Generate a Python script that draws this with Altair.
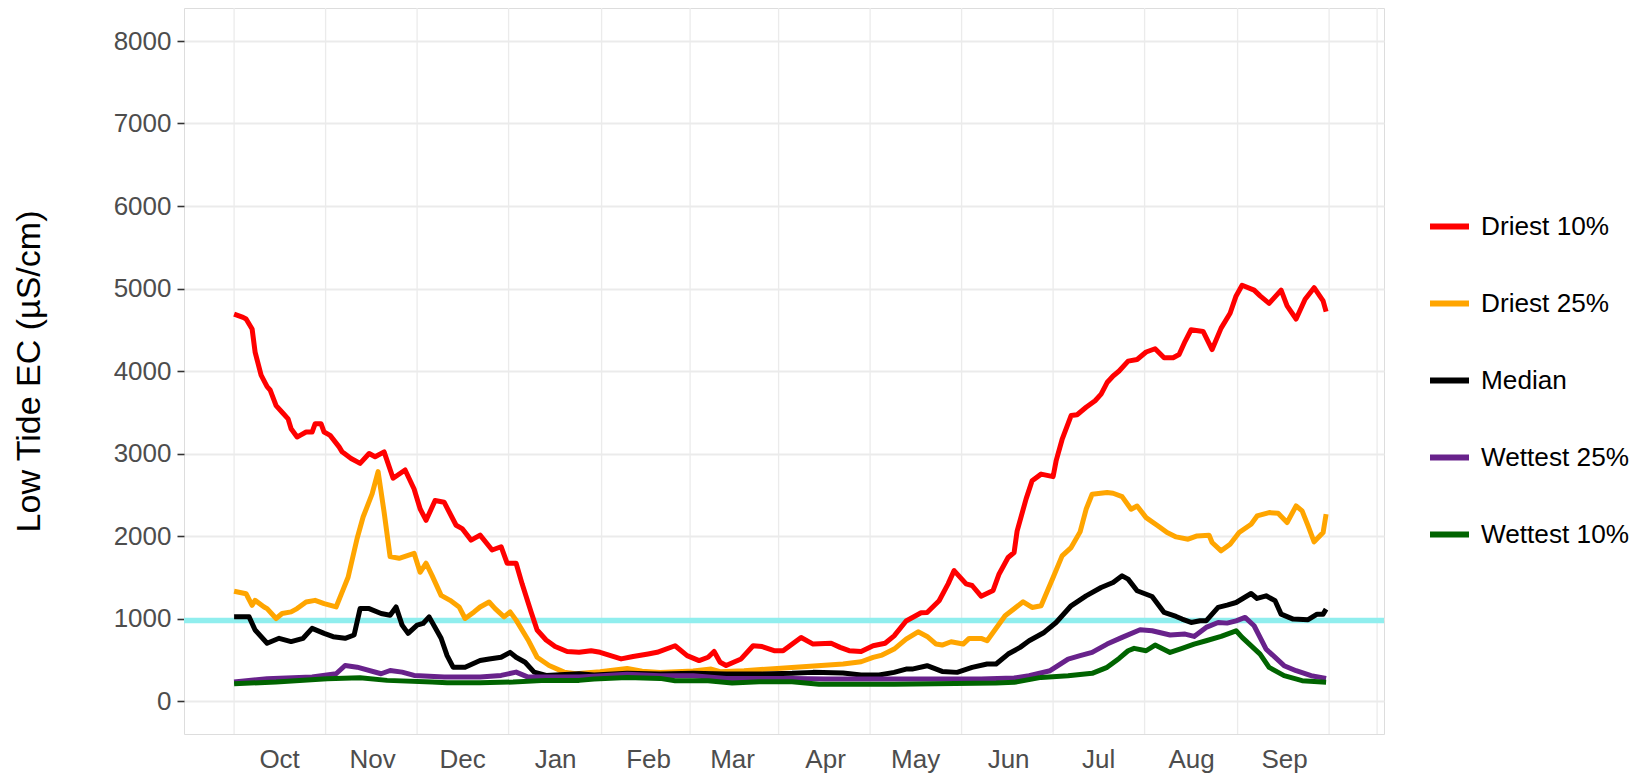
import altair as alt
import pandas as pd

# ---------------- data (day of water year: Oct 1 = 1) ----------------
series_names = ["Driest 10%", "Driest 25%", "Median", "Wettest 25%", "Wettest 10%"]
series_colors = ["#FF0000", "#FFA500", "#000000", "#68228B", "#006400"]

driest10_day = [1, 4, 5, 7, 8, 10, 12, 13, 15, 17, 19, 20, 22, 23, 25, 27, 28, 30, 31, 33,
                36, 37, 40, 43, 46, 48, 51, 54, 58, 61, 63, 65, 68, 71, 75, 77, 80, 83, 87, 90,
                92, 95, 97, 100, 102, 105, 108, 112, 116, 120, 123, 130, 134, 139, 142, 148, 152, 156, 159, 161,
                163, 165, 170, 174, 177, 181, 184, 190, 194, 200, 203, 206, 210, 214, 218, 221, 225, 230, 232, 236,
                239, 241, 245, 247, 250, 254, 256, 259, 261, 262, 265, 267, 270, 274, 275, 277, 280, 282, 285, 288,
                290, 292, 294, 296, 299, 302, 305, 308, 311, 314, 316, 318, 320, 324, 327, 330, 333, 335, 337, 341,
                343, 346, 350, 352, 355, 358, 361, 364, 365]
driest10_ec = [4690, 4650, 4630, 4510, 4230, 3950, 3810, 3770, 3580, 3500, 3420, 3300, 3200, 3220, 3260, 3260, 3360, 3360, 3260, 3220,
               3080, 3020, 2940, 2880, 3000, 2960, 3020, 2700, 2800, 2570, 2330, 2190, 2430, 2410, 2130, 2090, 1950, 2010, 1830, 1870,
               1670, 1670, 1420, 1080, 860, 740, 660, 600, 590, 610, 590, 510, 540, 570, 590, 670, 550, 490, 530, 600,
               470, 430, 510, 670, 660, 610, 610, 770, 690, 700, 650, 610, 600, 670, 700, 790, 970, 1070, 1073, 1215,
               1420, 1580, 1420, 1400, 1270, 1340, 1540, 1740, 1800, 2060, 2450, 2670, 2750, 2720, 2910, 3170, 3460, 3470, 3560, 3640,
               3720, 3860, 3940, 4000, 4120, 4140, 4230, 4270, 4160, 4160, 4200, 4360, 4500, 4480, 4260, 4520, 4700, 4910, 5040, 4980,
               4910, 4820, 4980, 4790, 4630, 4870, 5010, 4850, 4720]

driest25_day = [1, 5, 7, 8, 11, 12, 15, 17, 20, 22, 25, 28, 31, 35, 37, 39, 42, 44, 47, 49,
                51, 53, 56, 61, 63, 65, 67, 70, 73, 76, 78, 81, 83, 86, 88, 91, 93, 95, 99, 102,
                106, 111, 115, 123, 132, 137, 143, 154, 160, 163, 171, 182, 193, 204, 210, 214, 217, 221, 225, 229,
                232, 235, 237, 240, 244, 246, 250, 252, 258, 264, 267, 270, 274, 277, 280, 283, 285, 287, 292, 294,
                297, 300, 302, 305, 309, 312, 315, 319, 322, 326, 327, 330, 333, 336, 340, 342, 346, 349, 352, 355,
                357, 359, 361, 364, 365]
driest25_ec = [1330, 1300, 1160, 1220, 1140, 1120, 1000, 1060, 1080, 1120, 1200, 1220, 1180, 1140, 1320, 1500, 1970, 2230, 2510, 2780,
               2290, 1750, 1730, 1790, 1560, 1670, 1520, 1280, 1220, 1140, 1000, 1080, 1140, 1200, 1120, 1020, 1080, 980, 740, 530,
               430, 350, 330, 355, 395, 360, 347, 363, 387, 355, 367, 395, 420, 448, 476, 529, 557, 629, 750, 839,
               783, 690, 678, 718, 690, 759, 759, 730, 1033, 1202, 1134, 1154, 1497, 1759, 1860, 2050, 2324, 2506, 2526, 2518,
               2477, 2324, 2364, 2223, 2122, 2042, 1989, 1961, 2001, 2009, 1921, 1820, 1900, 2042, 2143, 2243, 2284, 2276, 2163, 2365,
               2304, 2122, 1929, 2042, 2264]

median_day = [1, 6, 8, 12, 16, 20, 24, 27, 31, 34, 38, 41, 43, 46, 50, 53, 55, 57, 59, 62,
              64, 66, 70, 72, 74, 78, 83, 86, 90, 93, 95, 98, 101, 105, 116, 121, 132, 143, 154, 165,
              176, 187, 194, 204, 210, 216, 221, 225, 227, 232, 237, 242, 247, 252, 255, 259, 263, 266, 271, 275,
              280, 285, 290, 294, 297, 299, 302, 307, 311, 315, 317, 320, 323, 325, 329, 332, 335, 340, 342, 345,
              348, 350, 354, 359, 362, 364, 365]
median_ec = [1020, 1020, 860, 700, 760, 720, 760, 880, 820, 780, 760, 800, 1120, 1120, 1060, 1040, 1140, 920, 820, 920,
             940, 1020, 760, 550, 410, 410, 490, 510, 530, 590, 530, 470, 350, 310, 330, 315, 335, 327, 335, 327,
             327, 335, 347, 339, 315, 315, 347, 387, 387, 428, 359, 347, 408, 448, 448, 569, 650, 730, 831, 952,
             1154, 1275, 1376, 1436, 1517, 1477, 1336, 1267, 1073, 1025, 993, 952, 972, 972, 1134, 1162, 1194, 1303, 1243, 1275,
             1215, 1053, 993, 985, 1053, 1053, 1114]

wettest25_day = [1, 12, 27, 35, 38, 42, 50, 53, 57, 61, 71, 83, 90, 95, 99, 116, 121, 132, 143, 154,
                 165, 176, 187, 198, 210, 250, 261, 266, 273, 279, 283, 287, 292, 297, 303, 307, 313, 318, 321, 325,
                 329, 332, 335, 338, 341, 345, 351, 355, 360, 365]
wettest25_ec = [230, 270, 290, 330, 430, 410, 330, 370, 350, 310, 290, 290, 310, 350, 290, 290, 299, 323, 307, 307,
                274, 274, 274, 266, 266, 266, 278, 307, 367, 508, 549, 589, 690, 771, 863, 851, 800, 811, 783, 892,
                952, 944, 972, 1013, 912, 629, 428, 367, 307, 274]

wettest10_day = [1, 15, 32, 43, 52, 67, 72, 83, 94, 105, 116, 121, 132, 143, 148, 159, 167, 176, 187, 196,
                 210, 221, 255, 261, 270, 279, 287, 292, 296, 299, 301, 305, 308, 313, 317, 321, 325, 330, 335, 337,
                 343, 346, 351, 357, 365]
wettest10_ec = [210, 230, 271, 283, 250, 230, 222, 222, 230, 250, 250, 266, 286, 274, 246, 246, 218, 234, 234, 202,
                202, 202, 218, 226, 286, 307, 335, 408, 516, 609, 638, 609, 678, 589, 638, 690, 730, 783, 851, 771,
                569, 408, 307, 246, 226]

threshold_ec = [975]

month_labels = ["Oct", "Nov", "Dec", "Jan", "Feb", "Mar", "Apr", "May", "Jun", "Jul", "Aug", "Sep"]
month_label_days = [16, 47, 77, 108, 139, 167, 198, 228, 259, 289, 320, 351]
x_grid_days = [1, 31.5, 62, 92.5, 123.5, 153, 182.5, 213, 243.5, 274, 304.5, 335.5, 366, 382]
y_ticks = [0, 1000, 2000, 3000, 4000, 5000, 6000, 7000, 8000]

x_domain = [-15.7, 384.3]
y_domain = [-400, 8400]

# ---------------- tables ----------------
series_days = [driest10_day, driest25_day, median_day, wettest25_day, wettest10_day]
series_vals = [driest10_ec, driest25_ec, median_ec, wettest25_ec, wettest10_ec]
rows = []
for name, days, vals in zip(series_names, series_days, series_vals):
    assert len(days) == len(vals), name
    for d, v in zip(days, vals):
        rows.append({"day": d, "ec": v, "series": name})
lines_df = pd.DataFrame(rows)
grid_df = pd.DataFrame({"day": x_grid_days})
thr_df = pd.DataFrame({"ec": threshold_ec})

FONT = "Liberation Sans"
label_expr = "[" + ",".join("'%s'" % m for m in month_labels) + "][indexof([" + \
    ",".join(str(d) for d in month_label_days) + "], datum.value)]"

x_scale = alt.Scale(domain=x_domain, nice=False, zero=False)
y_scale = alt.Scale(domain=y_domain, nice=False, zero=False)

x_axis = alt.Axis(values=month_label_days, labelExpr=label_expr, title=None, grid=False,
                  ticks=False, domain=False, labelFontSize=26, labelColor="#4D4D4D",
                  labelFont=FONT, labelPadding=12)
y_axis = alt.Axis(values=y_ticks, format="d", title="Low Tide EC (µS/cm)", grid=True,
                  gridColor="#EBEBEB", gridWidth=2, domain=False, ticks=True, tickSize=7,
                  tickColor="#333333", tickWidth=1.6, labelFontSize=26, labelColor="#4D4D4D",
                  labelFont=FONT, labelPadding=6, titleFontSize=34, titleFont=FONT,
                  titleFontWeight="normal", titleColor="#000000", titleAngle=270,
                  titleX=-145, titleY=363, titleAlign="center", titleBaseline="alphabetic")

grid_layer = alt.Chart(grid_df).mark_rule(color="#EBEBEB", strokeWidth=1.3).encode(
    x=alt.X("day:Q", scale=x_scale, axis=x_axis)
)

thr_layer = alt.Chart(thr_df).mark_rule(color="#90EEEE", strokeWidth=5.5).encode(
    y=alt.Y("ec:Q", scale=y_scale, axis=y_axis)
)

line_layer = alt.Chart(lines_df).mark_line(strokeWidth=5, strokeJoin="round", strokeCap="butt").encode(
    x=alt.X("day:Q", scale=x_scale, axis=x_axis),
    y=alt.Y("ec:Q", scale=y_scale, axis=y_axis),
    color=alt.Color("series:N",
                    scale=alt.Scale(domain=series_names, range=series_colors),
                    sort=series_names,
                    legend=alt.Legend(title=None, orient="none", legendX=1243, legendY=196,
                                      symbolType="stroke", symbolSize=1521, symbolStrokeWidth=6,
                                      labelFontSize=26.2, labelFont=FONT, labelColor="#000000",
                                      labelOffset=9, rowPadding=41, padding=0, labelLimit=400)),
    detail="series:N",
)

chart = alt.layer(grid_layer, thr_layer, line_layer).properties(
    width=1200, height=726,
    autosize=alt.AutoSizeParams(type="none"),
    padding={"left": 176, "top": 0, "right": 246, "bottom": 40},
    background="white",
).configure_view(
    stroke="#333333", strokeWidth=1.6
).configure(font=FONT)

chart.save("out.html", embed_options={"renderer": "svg", "actions": False})
